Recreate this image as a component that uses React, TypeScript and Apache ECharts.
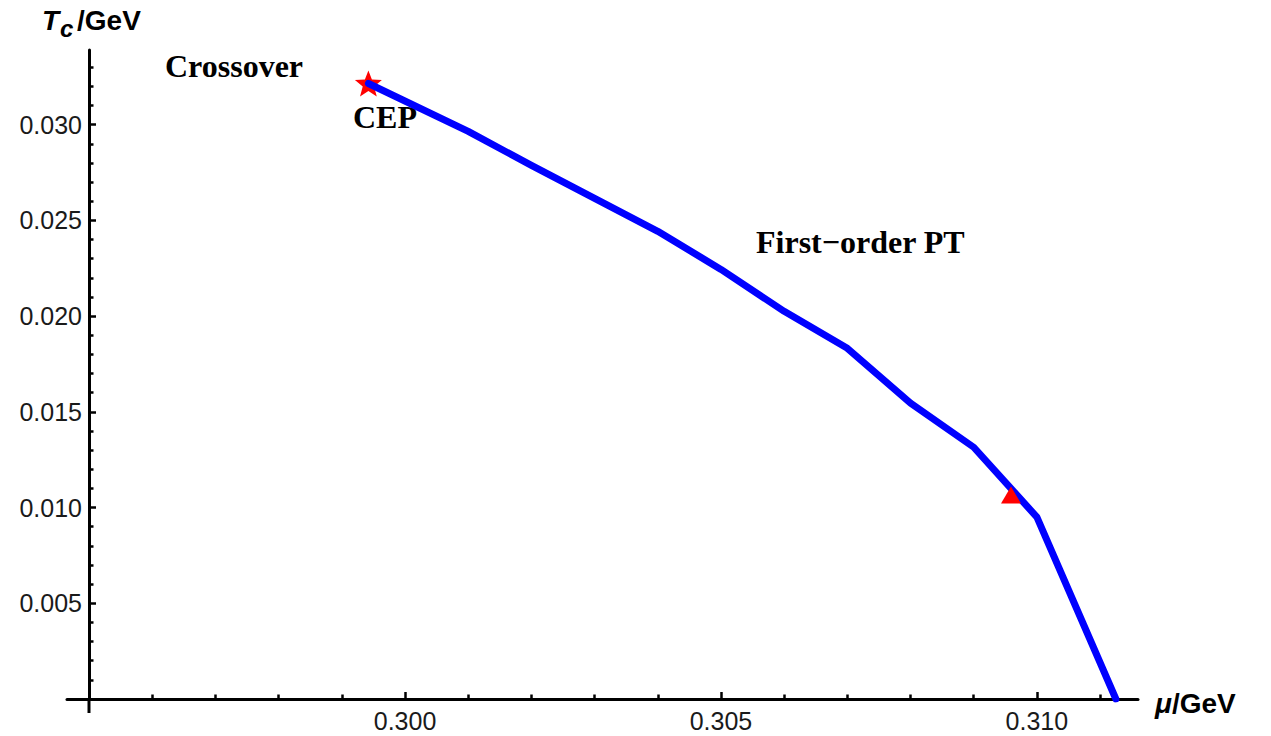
import React, { useEffect, useRef } from "react";
import * as echarts from "echarts";

// Phase-boundary data (mu in GeV, Tc in GeV)
const muValues = [0.29942, 0.301, 0.302, 0.303, 0.304, 0.305, 0.306, 0.307, 0.308, 0.309, 0.31, 0.31125];
const tcValues = [0.03215, 0.02965, 0.02787, 0.02615, 0.02443, 0.02244, 0.02025, 0.01832, 0.01545, 0.01315, 0.0095, 0];

// Critical end point (star) and the extra marker (triangle)
const cepPoint = [0.29942, 0.03215];
const trianglePoint = [0.30959, 0.01065];

// Tick positions
const xMajorTicks = [0.3, 0.305, 0.31];
const xMinorTicks = [0.296, 0.297, 0.298, 0.299, 0.301, 0.302, 0.303, 0.304, 0.306, 0.307, 0.308, 0.309, 0.311];
const yMajorTicks = [0.005, 0.01, 0.015, 0.02, 0.025, 0.03];
const yMinorTicks = [
  0.001, 0.002, 0.003, 0.004, 0.006, 0.007, 0.008, 0.009, 0.011, 0.012, 0.013, 0.014,
  0.016, 0.017, 0.018, 0.019, 0.021, 0.022, 0.023, 0.024, 0.026, 0.027, 0.028, 0.029,
  0.031, 0.032, 0.033,
];

// Axis extents
const xMin = 0.29465;
const xMax = 0.3116;
const yMin = 0;
const yMax = 0.0339;

const STAR =
  "path://M50,0 L63,33 L100,35 L71,58 L81,95 L50,75 L19,95 L29,58 L0,35 L37,33 Z";

const SANS = "'Liberation Sans', Arial, sans-serif";
const SERIF = "'Liberation Serif', 'Times New Roman', serif";

export default function App() {
  const ref = useRef<HTMLDivElement>(null);

  useEffect(() => {
    if (!ref.current) return;
    const chart = echarts.init(ref.current, undefined, { renderer: "svg" });

    const lineData = muValues.map((m, i) => [m, tcValues[i]]);
    const fmt = (v: number) => v.toFixed(3);

    const axisLabelStyle = {
      fontFamily: SANS,
      fontSize: 25,
      color: "#1a1a1a",
    };

    chart.setOption({
      animation: false,
      backgroundColor: "#ffffff",
      grid: {
        left: 67,
        right: 133,
        top: 50,
        bottom: 37,
        containLabel: false,
        outerBoundsMode: "none",
      },
      xAxis: [
        {
          type: "value",
          position: "bottom",
          min: xMin,
          max: xMax,
          axisLine: { show: true, onZero: false, lineStyle: { color: "#000", width: 3 } },
          axisTick: {
            show: true,
            inside: true,
            length: 7,
            lineStyle: { color: "#000", width: 2.5 },
            customValues: xMajorTicks,
          },
          axisLabel: {
            show: true,
            margin: 9,
            customValues: xMajorTicks,
            formatter: fmt,
            ...axisLabelStyle,
          },
          splitLine: { show: false },
        },
        {
          type: "value",
          position: "bottom",
          min: xMin,
          max: xMax,
          axisLine: { show: false, onZero: false },
          axisTick: {
            show: true,
            inside: true,
            length: 4.5,
            lineStyle: { color: "#000", width: 2.5 },
            customValues: xMinorTicks,
          },
          axisLabel: { show: false },
          splitLine: { show: false },
        },
      ],
      yAxis: [
        {
          type: "value",
          position: "left",
          offset: -22,
          min: yMin,
          max: yMax,
          axisLine: { show: true, onZero: false, lineStyle: { color: "#000", width: 3 } },
          axisTick: {
            show: true,
            inside: true,
            length: 7,
            lineStyle: { color: "#000", width: 2.5 },
            customValues: yMajorTicks,
          },
          axisLabel: {
            show: true,
            margin: 7,
            customValues: yMajorTicks,
            formatter: fmt,
            ...axisLabelStyle,
          },
          splitLine: { show: false },
        },
        {
          type: "value",
          position: "left",
          offset: -22,
          min: yMin,
          max: yMax,
          axisLine: { show: false, onZero: false },
          axisTick: {
            show: true,
            inside: true,
            length: 4.5,
            lineStyle: { color: "#000", width: 2.5 },
            customValues: yMinorTicks,
          },
          axisLabel: { show: false },
          splitLine: { show: false },
        },
      ],
      series: [
        {
          type: "scatter",
          xAxisIndex: 0,
          yAxisIndex: 0,
          data: [cepPoint],
          symbol: STAR,
          symbolSize: [27, 26],
          itemStyle: { color: "#ff0000", opacity: 1 },
          z: 2,
          silent: true,
        },
        {
          type: "line",
          xAxisIndex: 0,
          yAxisIndex: 0,
          data: lineData,
          showSymbol: false,
          symbol: "none",
          lineStyle: { color: "#0000ff", width: 7, cap: "round", join: "round" },
          z: 3,
          silent: true,
        },
        {
          type: "scatter",
          xAxisIndex: 0,
          yAxisIndex: 0,
          data: [trianglePoint],
          symbol: "triangle",
          symbolSize: [20, 17],
          itemStyle: { color: "#ff0000", opacity: 1 },
          z: 4,
          silent: true,
        },
      ],
      graphic: [
        {
          // small overhang of the vertical axis below the horizontal one
          type: "line",
          shape: { x1: 89, y1: 698, x2: 89, y2: 713 },
          style: { stroke: "#000", lineWidth: 3 },
          z: 10,
        },
        {
          type: "text",
          left: 42,
          top: 6,
          style: {
            text: "T",
            fontFamily: SANS,
            fontSize: 28,
            fontWeight: "bold",
            fontStyle: "italic",
            fill: "#000",
          },
        },
        {
          type: "text",
          left: 60,
          top: 16,
          style: {
            text: "c",
            fontFamily: SANS,
            fontSize: 24,
            fontWeight: "bold",
            fontStyle: "italic",
            fill: "#000",
          },
        },
        {
          type: "text",
          left: 77,
          top: 6,
          style: {
            text: "/GeV",
            fontFamily: SANS,
            fontSize: 28,
            fontWeight: "bold",
            fill: "#000",
          },
        },
        {
          type: "text",
          left: 1155,
          top: 689,
          style: {
            text: "{i|μ}{n|/GeV}",
            fill: "#000",
            rich: {
              i: { fontFamily: SANS, fontSize: 28, fontWeight: "bold", fontStyle: "italic", fill: "#000" },
              n: { fontFamily: SANS, fontSize: 28, fontWeight: "bold", fill: "#000" },
            },
          },
        },
        {
          type: "text",
          left: 165,
          top: 50,
          style: { text: "Crossover", fontFamily: SERIF, fontSize: 32, fontWeight: "bold", fill: "#000" },
        },
        {
          type: "text",
          left: 353,
          top: 101,
          style: { text: "CEP", fontFamily: SERIF, fontSize: 32, fontWeight: "bold", fill: "#000" },
        },
        {
          type: "text",
          left: 756,
          top: 226,
          style: { text: "First\u2212order PT", fontFamily: SERIF, fontSize: 32, fontWeight: "bold", fill: "#000" },
        },
      ],
    });

    return () => chart.dispose();
  }, []);

  return (
    <div
      ref={ref}
      style={{ position: "fixed", left: 0, top: 0, width: 1271, height: 736, background: "#fff" }}
    />
  );
}
